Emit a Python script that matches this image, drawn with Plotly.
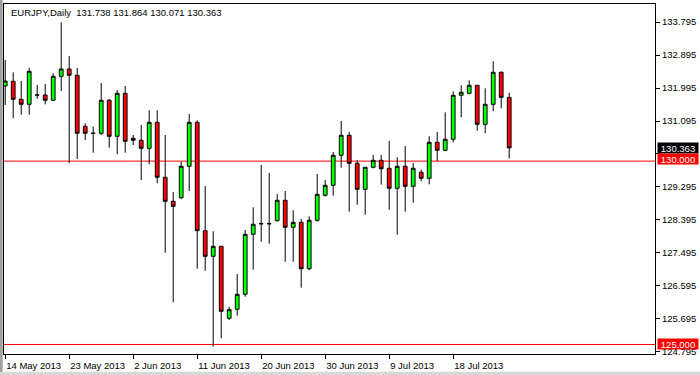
import plotly.graph_objects as go

# ---- data (EURJPY daily) ----
opens = [132.050, 132.178, 131.687, 131.550, 131.804, 131.804, 131.660, 132.314, 132.513, 132.341,
         130.950, 130.760, 130.760, 131.660, 130.678, 131.850, 130.623, 130.569, 130.350, 131.060,
         129.560, 128.905, 129.003, 129.860, 131.060, 128.103, 127.405, 127.678, 125.714, 125.960,
         126.369, 128.005, 128.294, 128.294, 128.376, 128.932, 128.196, 128.332, 127.067, 128.387,
         129.069, 129.341, 130.160, 130.705, 129.941, 129.232, 129.832, 130.023, 129.805, 129.260,
         129.860, 129.314, 129.696, 129.532, 130.514, 130.296, 130.596, 131.796, 131.850, 132.069,
         131.005, 131.550, 132.423, 131.738]
highs = [132.759, 132.423, 132.186, 132.549, 132.077, 132.104, 132.396, 133.787, 132.868, 132.540,
         131.032, 130.940, 132.131, 131.695, 131.940, 132.050, 130.713, 130.986, 131.387, 131.387,
         130.713, 129.159, 129.985, 131.286, 131.114, 129.322, 128.087, 127.678, 126.030, 126.922,
         128.122, 128.741, 129.895, 129.677, 129.104, 129.186, 128.660, 128.422, 128.496, 129.650,
         129.486, 130.250, 131.095, 130.795, 130.023, 129.832, 130.168, 130.168, 130.550, 130.105,
         130.413, 129.950, 129.767, 130.678, 130.795, 131.332, 131.905, 132.069, 132.205, 132.069,
         131.987, 132.723, 132.450, 131.864]
lows = [131.531, 131.169, 131.267, 131.267, 131.700, 131.550, 131.649, 131.913, 129.941, 130.059,
        130.577, 130.230, 130.713, 130.367, 130.187, 130.230, 130.440, 129.486, 129.914, 129.396,
        127.503, 126.150, 128.960, 129.186, 127.067, 127.012, 124.940, 125.169, 125.668, 125.785,
        126.303, 127.040, 127.803, 127.749, 128.349, 127.258, 127.258, 126.549, 127.023, 128.349,
        129.030, 129.058, 129.821, 128.621, 128.812, 128.540, 129.805, 129.358, 128.676, 127.994,
        128.621, 128.867, 129.450, 129.369, 130.004, 130.269, 130.514, 131.196, 131.823, 130.830,
        130.760, 131.360, 131.441, 130.071]
closes = [132.186, 131.687, 131.550, 132.450, 131.804, 131.660, 132.314, 132.513, 132.341, 130.760,
          130.760, 130.760, 131.660, 130.678, 131.850, 130.541, 130.569, 130.350, 131.060, 129.560,
          128.905, 128.769, 129.860, 131.060, 128.103, 127.405, 127.678, 125.905, 125.949, 126.369,
          128.005, 128.278, 128.294, 128.294, 128.932, 128.196, 128.332, 127.067, 128.387, 129.096,
          129.341, 130.160, 130.705, 129.941, 129.232, 129.832, 130.023, 129.794, 129.260, 129.860,
          129.314, 129.805, 129.532, 130.514, 130.296, 130.596, 131.796, 131.878, 132.069, 131.005,
          131.550, 132.423, 131.741, 130.363]

date_tick_pos = [0, 8, 16, 24, 32, 40, 48, 56]
date_tick_labels = ["14 May 2013", "23 May 2013", "2 Jun 2013", "11 Jun 2013",
                    "20 Jun 2013", "30 Jun 2013", "9 Jul 2013", "18 Jul 2013"]
price_ticks = [124.795, 125.695, 126.595, 127.495, 128.395, 129.295, 130.195,
               131.095, 131.995, 132.895, 133.795]
hidden_price_ticks = [130.195]  # covered by the price-label boxes in the reference
level_lines = [130.000, 125.000]
last_price = 130.363
title_text = "EURJPY,Daily  131.738 131.864 130.071 130.363"

FONT = "Liberation Sans"
FS = 9.5

x = list(range(len(opens)))

fig = go.Figure(go.Candlestick(
    x=x, open=opens, high=highs, low=lows, close=closes,
    increasing=dict(line=dict(color="black", width=1), fillcolor="#00FF00"),
    decreasing=dict(line=dict(color="black", width=1), fillcolor="#FF0000"),
    whiskerwidth=0, hoverinfo="skip", showlegend=False,
))

shapes = []
for lv in level_lines:
    shapes.append(dict(type="line", xref="paper", yref="y", x0=0, x1=1, y0=lv, y1=lv,
                       line=dict(color="#FF0000", width=1), layer="below"))
# outer window frame
shapes.append(dict(type="rect", xref="paper", yref="paper", x0=-4/651, x1=-1.3/651, y0=-21/350, y1=1 + 4/350,
                   fillcolor="#A0A0A0", line=dict(width=0)))
shapes.append(dict(type="rect", xref="paper", yref="paper", x0=-4/651, x1=1 + 45/651, y0=-21/350, y1=-17.7/350,
                   fillcolor="#D8D8D8", line=dict(width=0)))

annotations = [
    dict(text=title_text, xref="paper", yref="paper", x=5/651, y=1 - 9/350,
         xanchor="left", yanchor="middle", showarrow=False,
         font=dict(family=FONT, size=FS, color="black")),
    dict(text=f"{last_price:.3f}", xref="paper", yref="y", x=1, y=last_price, xshift=2,
         xanchor="left", yanchor="middle", showarrow=False, bgcolor="black", width=40, height=10,
         borderpad=0, align="center", font=dict(family=FONT, size=FS, color="white")),
]
for lv in level_lines:
    annotations.append(dict(text=f"{lv:.3f}", xref="paper", yref="y", x=1, y=lv, xshift=2,
                            yshift=2.5 if lv == 130.0 else 0.5,
                            xanchor="left", yanchor="middle", showarrow=False, bgcolor="#FF0000",
                            width=40, height=10, borderpad=0, align="center",
                            font=dict(family=FONT, size=FS, color="white")))

fig.update_layout(
    width=700, height=375,
    margin=dict(l=4, r=45, t=4, b=21, pad=0),
    paper_bgcolor="white", plot_bgcolor="white",
    shapes=shapes, annotations=annotations,
    boxgap=0.33,
    xaxis=dict(range=[-0.15, 81.225], showgrid=False, zeroline=False,
               showline=True, linecolor="black", linewidth=1, mirror=True,
               ticks="outside", ticklen=4, tickcolor="black", tickwidth=1,
               tickvals=date_tick_pos, ticktext=date_tick_labels,
               ticklabelposition="outside right", ticklabelstandoff=3,
               tickfont=dict(family=FONT, size=FS, color="black"),
               rangeslider=dict(visible=False), fixedrange=True),
    yaxis=dict(range=[124.74, 134.286], side="right", showgrid=False, zeroline=False,
               showline=True, linecolor="black", linewidth=1, mirror=True,
               ticks="outside", ticklen=4, tickcolor="black", tickwidth=1,
               tickvals=price_ticks,
               ticktext=["" if v in hidden_price_ticks else f"{v:.3f}" for v in price_ticks],
               tickfont=dict(family=FONT, size=FS, color="black"), fixedrange=True),
)

fig.write_html("out.html", config={"displayModeBar": False},
               post_script="document.body.style.margin='0';document.body.style.overflow='hidden';")
